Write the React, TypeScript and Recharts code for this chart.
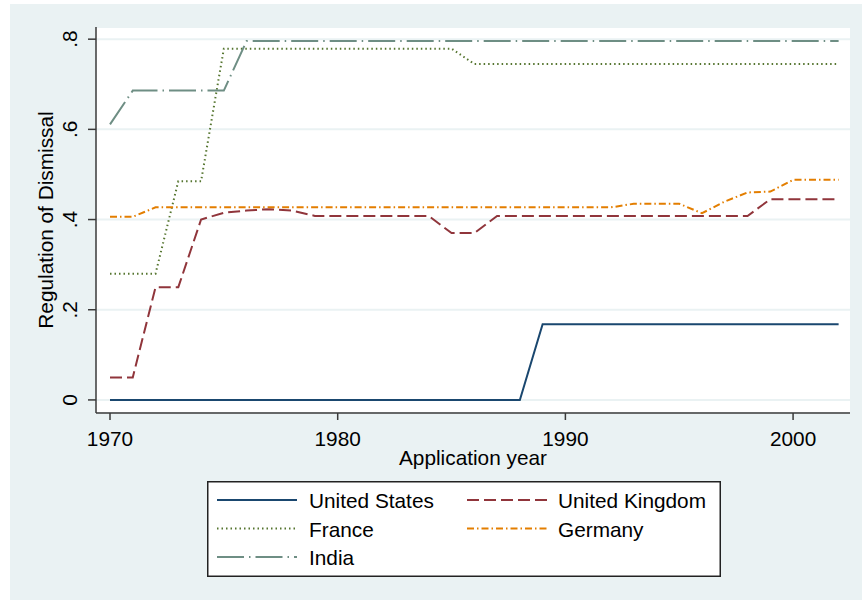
import { LineChart, Line, XAxis, YAxis, CartesianGrid, Legend } from 'recharts';

const years = [
  1970, 1971, 1972, 1973, 1974, 1975, 1976, 1977, 1978, 1979, 1980,
  1981, 1982, 1983, 1984, 1985, 1986, 1987, 1988, 1989, 1990, 1991,
  1992, 1993, 1994, 1995, 1996, 1997, 1998, 1999, 2000, 2001, 2002,
];

const unitedStates = [
  0, 0, 0, 0, 0, 0, 0, 0, 0, 0, 0,
  0, 0, 0, 0, 0, 0, 0, 0, 0.168, 0.168, 0.168,
  0.168, 0.168, 0.168, 0.168, 0.168, 0.168, 0.168, 0.168, 0.168, 0.168, 0.168,
];

const unitedKingdom = [
  0.05, 0.05, 0.25, 0.25, 0.4, 0.415, 0.42, 0.423, 0.42, 0.408, 0.408,
  0.408, 0.408, 0.408, 0.408, 0.37, 0.37, 0.408, 0.408, 0.408, 0.408, 0.408,
  0.408, 0.408, 0.408, 0.408, 0.408, 0.408, 0.408, 0.445, 0.445, 0.445, 0.445,
];

const france = [
  0.28, 0.28, 0.28, 0.485, 0.485, 0.779, 0.779, 0.779, 0.779, 0.779, 0.779,
  0.779, 0.779, 0.779, 0.779, 0.779, 0.745, 0.745, 0.745, 0.745, 0.745, 0.745,
  0.745, 0.745, 0.745, 0.745, 0.745, 0.745, 0.745, 0.745, 0.745, 0.745, 0.745,
];

const germany = [
  0.406, 0.406, 0.427, 0.427, 0.427, 0.427, 0.427, 0.427, 0.427, 0.427, 0.427,
  0.427, 0.427, 0.427, 0.427, 0.427, 0.427, 0.427, 0.427, 0.427, 0.427, 0.427,
  0.427, 0.435, 0.435, 0.435, 0.414, 0.44, 0.46, 0.462, 0.488, 0.488, 0.488,
];

const india = [
  0.611, 0.686, 0.686, 0.686, 0.686, 0.686, 0.796, 0.796, 0.796, 0.796, 0.796,
  0.796, 0.796, 0.796, 0.796, 0.796, 0.796, 0.796, 0.796, 0.796, 0.796, 0.796,
  0.796, 0.796, 0.796, 0.796, 0.796, 0.796, 0.796, 0.796, 0.796, 0.796, 0.796,
];

const xTicks = [1970, 1980, 1990, 2000];
const yTicks = [0, 0.2, 0.4, 0.6, 0.8];

const data = years.map((year, i) => ({
  year,
  us: unitedStates[i],
  uk: unitedKingdom[i],
  fr: france[i],
  de: germany[i],
  in: india[i],
}));

const series = [
  { key: 'us', name: 'United States', color: '#1a476f', dash: undefined },
  { key: 'uk', name: 'United Kingdom', color: '#90353b', dash: '12 5' },
  { key: 'fr', name: 'France', color: '#55752f', dash: '1.5 3' },
  { key: 'de', name: 'Germany', color: '#e37e00', dash: '7 3 1.5 3' },
  { key: 'in', name: 'India', color: '#6e8e84', dash: '27 5 1.5 5' },
];

const font = '"Liberation Sans", Arial, sans-serif';
const fs = 20.8;
const axisColor = '#3a3a3a';

const fmtY = (v: number) => (v === 0 ? '0' : String(v).replace(/^0/, ''));

const YTick = ({ x, y, payload }: any) => {
  const tx = x - 9;
  return (
    <text x={tx} y={y} transform={`rotate(-90, ${tx}, ${y})`} textAnchor="middle"
      fontSize={fs} fontFamily={font} fill="#000">
      {fmtY(payload.value)}
    </text>
  );
};

const XTick = ({ x, y, payload }: any) => (
  <text x={x} y={y + 24} textAnchor="middle" fontSize={fs} fontFamily={font} fill="#000">
    {payload.value}
  </text>
);

const LegendBox = () => {
  const rowY = [19, 47.5, 76];
  return (
    <svg width={514} height={96} style={{ display: 'block' }}>
      <rect x={0.75} y={0.75} width={512.5} height={94.5} fill="#fff" stroke="#222" strokeWidth={1.5} />
      {series.map((s, i) => {
        const col = i % 2;
        const row = Math.floor(i / 2);
        const lx = col === 0 ? 10 : 260;
        const tx = col === 0 ? 102 : 351;
        const y = rowY[row];
        return (
          <g key={s.key}>
            <line x1={lx} x2={lx + 80} y1={y} y2={y} stroke={s.color} strokeWidth={2}
              strokeDasharray={s.dash} />
            <text x={tx} y={y + 8} fontSize={fs} fontFamily={font} fill="#000">{s.name}</text>
          </g>
        );
      })}
    </svg>
  );
};

export default function App() {
  return (
    <div style={{ position: 'relative', width: 862, height: 600, background: '#fff' }}>
      <style>{'body{margin:0}'}</style>
      <div style={{ position: 'absolute', left: 10, top: 4, right: 0, bottom: 0, background: '#eaf2f3' }} />
      <div style={{ position: 'absolute', left: 0, top: 0 }}>
        <LineChart width={862} height={600} data={data} margin={{ top: 27, right: 12, left: 0, bottom: 0 }}>
          <CartesianGrid vertical={false} fill="#fff" stroke="#eaf2f3" strokeWidth={2} />
          <XAxis
            dataKey="year"
            type="number"
            domain={[1969.385, 2002.5]}
            ticks={xTicks}
            allowDataOverflow
            height={187}
            tickSize={7}
            tick={<XTick />}
            axisLine={{ stroke: axisColor, strokeWidth: 1.5 }}
            tickLine={{ stroke: axisColor, strokeWidth: 1.5 }}
            label={{
              value: 'Application year',
              content: ({ viewBox }: any) => (
                <text x={viewBox.x + viewBox.width / 2} y={viewBox.y + 52} textAnchor="middle"
                  fontSize={fs} fontFamily={font} fill="#000">Application year</text>
              ),
            }}
          />
          <YAxis
            type="number"
            domain={[-0.029, 0.827]}
            ticks={yTicks}
            allowDataOverflow
            width={96}
            tickSize={8}
            tick={<YTick />}
            axisLine={{ stroke: axisColor, strokeWidth: 1.5 }}
            tickLine={{ stroke: axisColor, strokeWidth: 1.5 }}
            label={{
              value: 'Regulation of Dismissal',
              content: ({ viewBox }: any) => {
                const cx = 53;
                const cy = viewBox.y + viewBox.height / 2;
                return (
                  <text x={cx} y={cy} transform={`rotate(-90, ${cx}, ${cy})`} textAnchor="middle"
                    fontSize={fs} fontFamily={font} fill="#000">Regulation of Dismissal</text>
                );
              },
            }}
          />
          {series.map((s) => (
            <Line
              key={s.key}
              type="linear"
              dataKey={s.key}
              name={s.name}
              stroke={s.color}
              strokeWidth={2}
              strokeDasharray={s.dash}
              dot={false}
              activeDot={false}
              isAnimationActive={false}
            />
          ))}
          <Legend
            layout="horizontal"
            verticalAlign="middle"
            align="center"
            content={<LegendBox />}
            wrapperStyle={{ left: 207, top: 481, width: 514, height: 96 }}
          />
        </LineChart>
      </div>
    </div>
  );
}
